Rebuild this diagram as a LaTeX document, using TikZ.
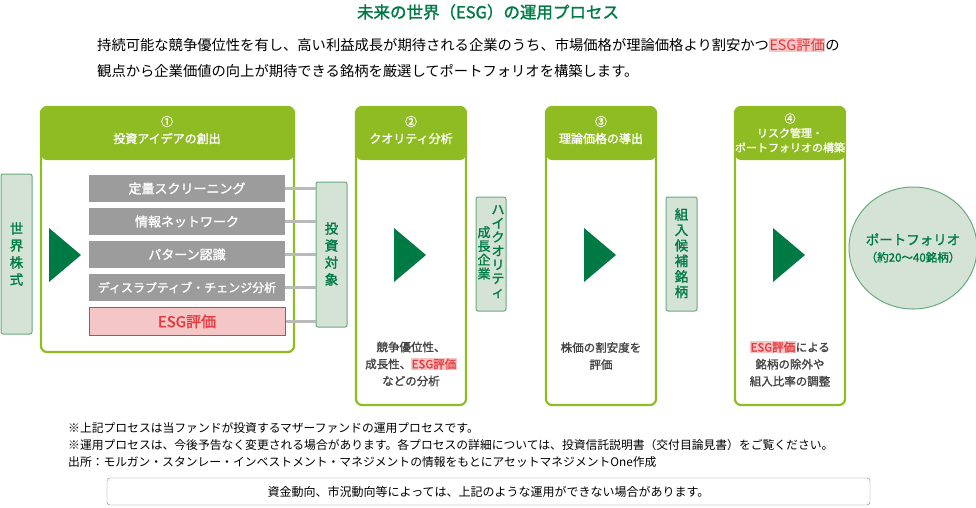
\documentclass[tikz,border=0pt]{standalone}
\usepackage{fontspec}
\setmainfont{Noto Sans CJK JP}
\newfontfamily\jb{Noto Sans CJK JP}[FakeBold=1.5]
\definecolor{lg}{HTML}{8FBC22}
\definecolor{dg}{HTML}{007A45}
\definecolor{pg}{HTML}{D4E3D5}
\definecolor{pgb}{HTML}{6AAA80}
\definecolor{gb}{HTML}{9C9C9C}
\definecolor{rd}{HTML}{E8383D}
\definecolor{pk}{HTML}{F4C6C6}
\definecolor{tx}{HTML}{444444}
\setlength{\fboxsep}{0.5pt}
\begin{document}
\begin{tikzpicture}[x=1pt,y=-1pt,
 stage/.style={draw=lg,line width=2.2pt,rounded corners=6pt},
 green/.style={draw=pgb,fill=pg,line width=1pt,rounded corners=2pt},
 bar/.style={fill=gb,text=white,font=\jb\fontsize{13}{15}\selectfont,inner sep=0pt},
 tri/.style={fill=dg},
 vt/.style={font=\jb\fontsize{13}{14.5}\selectfont,text=dg,align=center,inner sep=0pt},
 htxt/.style={text=white,font=\jb\fontsize{12}{17}\selectfont,align=center},
 btxt/.style={text=tx,font=\jb\fontsize{11.5}{17}\selectfont,align=center},
 conn/.style={draw=gb!70,line width=3pt}]
\useasboundingbox (0,0) rectangle (976,507);
\node[text=dg,font=\jb\fontsize{16.5}{18}\selectfont] (title) at (488,12) {未来の世界（ESG）の運用プロセス};
\node[anchor=west,font=\fontsize{14.3}{16}\selectfont,inner sep=0] (d1) at (97,45) {持続可能な競争優位性を有し、高い利益成長が期待される企業のうち、市場価格が理論価格より割安かつ\colorbox{pk}{\textcolor{rd}{ESG評価}}の};
\node[anchor=west,font=\fontsize{14.3}{16}\selectfont,inner sep=0] (d2) at (97,71) {観点から企業価値の向上が期待できる銘柄を厳選してポートフォリオを構築します。};
\foreach \a/\b in {41/294,356/466,546/656,735/845}{
 \fill[lg,rounded corners=6pt] (\a,107) rectangle (\b,160);}
\draw[stage] (41,107) rectangle (294,352);
\draw[stage] (356,107) rectangle (466,405);
\draw[stage] (546,107) rectangle (656,405);
\draw[stage] (735,107) rectangle (845,405);
\node[htxt] (h1) at (167,130) {①\\投資アイデアの創出};
\node[htxt] (h2) at (411,130) {②\\クオリティ分析};
\node[htxt] (h3) at (601,130) {③\\理論価格の導出};
\node[htxt,font=\jb\fontsize{11}{14.5}\selectfont] (h4) at (790,133) {④\\リスク管理・\\ポートフォリオの構築};
\draw[green] (1,174) rectangle (32,334);
\node[vt,font=\jb\fontsize{13.5}{17}\selectfont] (w) at (16.5,254) {世\\界\\株\\式};
\foreach \x in {49,394,584,773}{\fill[tri] (\x,228) -- (\x+32,255) -- (\x,282) -- cycle;}
\node[bar,minimum width=196pt,minimum height=27pt] (b1) at (187,188.5) {定量スクリーニング};
\node[bar,minimum width=196pt,minimum height=27pt] (b2) at (187,221.5) {情報ネットワーク};
\node[bar,minimum width=196pt,minimum height=27pt] (b3) at (187,254.5) {パターン認識};
\node[bar,minimum width=196pt,minimum height=27pt,font=\jb\fontsize{12}{14}\selectfont] (b4) at (187,287.5) {ディスラプティブ・チェンジ分析};
\node[bar,fill=pk,draw=rd,line width=1pt,text=rd,minimum width=196pt,minimum height=28pt,font=\jb\fontsize{15}{17}\selectfont] (b5) at (187,321.5) {ESG評価};
\draw[green] (316,182) rectangle (347,327);
\node[vt,font=\jb\fontsize{13.5}{17}\selectfont] (inv) at (331.5,254) {投\\資\\対\\象};
\foreach \b/\y in {b1/188.5,b2/221.5,b3/254.5,b4/287.5,b5/321.5}{\draw[conn] (\b.east) -- (316,\y);}
\draw[green] (476,197) rectangle (506,311);
\node[vt,anchor=north,font=\jb\fontsize{13}{13.8}\selectfont] (hq1) at (498,205) {ハ\\イ\\ク\\オ\\リ\\テ\\ィ};
\node[vt,anchor=north,font=\jb\fontsize{13}{13.8}\selectfont] (hq2) at (484,226) {成\\長\\企\\業};
\draw[green] (666,197) rectangle (697,311);
\node[vt,anchor=north,font=\jb\fontsize{13.5}{15.5}\selectfont] (cand) at (681.5,208) {組\\入\\候\\補\\銘\\柄};
\node[btxt] (t2) at (411,364) {競争優位性、\\成長性、\colorbox{pk}{\textcolor{rd}{ESG評価}}\\などの分析};
\node[btxt] (t3) at (601,356) {株価の割安度を\\評価};
\node[btxt] (t4) at (790,364) {\colorbox{pk}{\textcolor{rd}{ESG評価}}による\\銘柄の除外や\\組入比率の調整};
\draw[pgb,fill=pg,line width=1pt] (913,248) ellipse [x radius=64,y radius=61];
\node[vt,font=\jb\fontsize{13.5}{17}\selectfont] (pf) at (913,248) {ポートフォリオ\\{\fontsize{11.5}{13}\selectfont（約20～40銘柄）}};
\node[anchor=west,inner sep=0,font=\fontsize{11.8}{13}\selectfont] (n1) at (68,428) {※上記プロセスは当ファンドが投資するマザーファンドの運用プロセスです。};
\node[anchor=west,inner sep=0,font=\fontsize{11.8}{13}\selectfont] (n2) at (68,445) {※運用プロセスは、今後予告なく変更される場合があります。各プロセスの詳細については、投資信託説明書（交付目論見書）をご覧ください。};
\node[anchor=west,inner sep=0,font=\fontsize{11.8}{13}\selectfont] (n3) at (68,462) {出所：モルガン・スタンレー・インベストメント・マネジメントの情報をもとにアセットマネジメントOne作成};
\draw[gray,rounded corners=3pt] (107,478) rectangle (870,505);
\node[font=\fontsize{12}{13}\selectfont] (bn) at (488.5,491.5) {資金動向、市況動向等によっては、上記のような運用ができない場合があります。};
\end{tikzpicture}
\end{document}
